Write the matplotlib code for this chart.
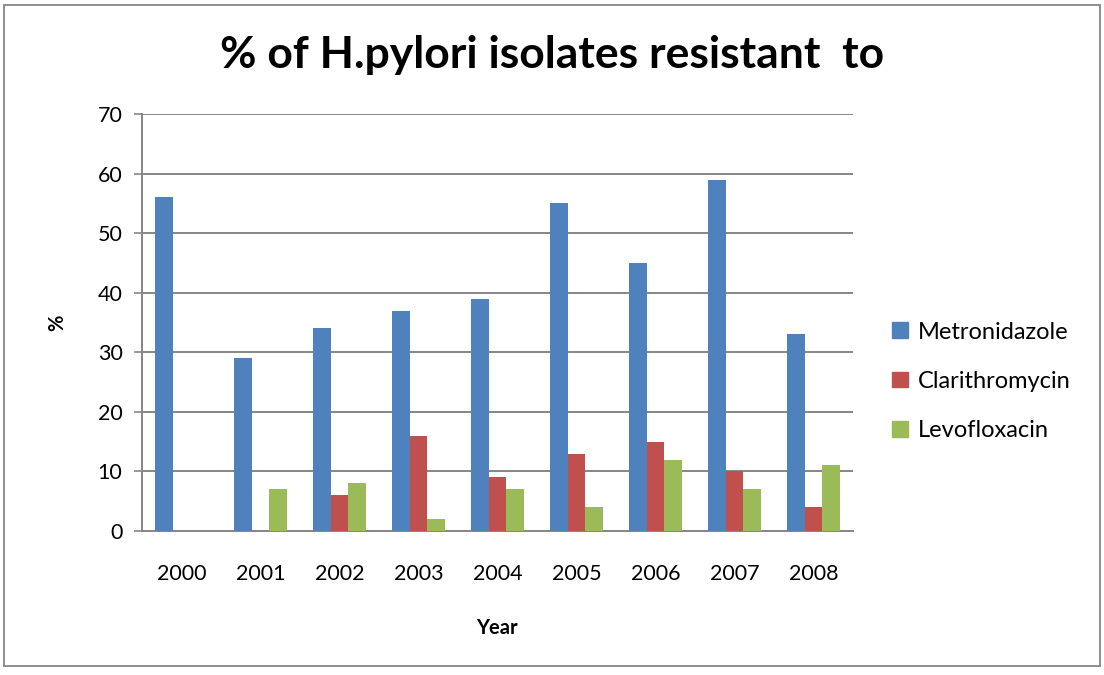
import matplotlib
matplotlib.use("Agg")
import matplotlib.pyplot as plt
import numpy as np
from matplotlib.patches import Rectangle, Patch

years = ["2000", "2001", "2002", "2003", "2004", "2005", "2006", "2007", "2008"]
metronidazole = [56, 29, 34, 37, 39, 55, 45, 59, 33]
clarithromycin = [0, 0, 6, 16, 9, 13, 15, 10, 4]
levofloxacin = [0, 7, 8, 2, 7, 4, 12, 7, 11]
series_names = ["Metronidazole", "Clarithromycin", "Levofloxacin"]
colors = ["#4F81BD", "#C0504D", "#9BBB59"]

plt.rcParams["font.family"] = ["Lato", "DejaVu Sans"]

fig = plt.figure(figsize=(11.04, 6.75), dpi=100)
ax = fig.add_axes([0.1286, 0.2133, 0.644, 0.6178])

x = np.arange(len(years))
w = 1 / 4.5
for i, (vals, name, c) in enumerate(zip([metronidazole, clarithromycin, levofloxacin],
                                          series_names, colors)):
    ax.bar(x + (i - 1) * w, vals, w, color=c, label=name, zorder=3)

ax.set_xlim(-0.5, len(years) - 0.5)
ax.set_ylim(0, 70)
ax.set_yticks(range(0, 71, 10))
ax.set_xticks(x)
ax.set_xticklabels(years)
ax.tick_params(axis="x", length=0, pad=24, labelsize=15.5)
ax.tick_params(axis="y", length=6, width=1.2, color="#868686", pad=8, labelsize=15.5)
ax.yaxis.grid(True, color="#868686", linewidth=1.4, zorder=0)
for s in ("top", "right"):
    ax.spines[s].set_visible(False)
ax.spines["left"].set_color("#868686")
ax.spines["left"].set_linewidth(1.4)
ax.spines["bottom"].set_color("#868686")
ax.spines["bottom"].set_linewidth(1.4)

ax.set_xlabel("Year", fontsize=14.5, fontweight="bold", labelpad=24)
ax.set_ylabel("%", fontsize=14.5, fontweight="bold", labelpad=22)

fig.text(0.5, 0.918, "% of H.pylori isolates resistant  to", ha="center", va="center",
         fontsize=32, fontweight="bold")

handles = [Patch(color=c, label=n) for c, n in zip(colors, series_names)]
fig.legend(handles=handles, loc="center left", bbox_to_anchor=(0.789, 0.435),
           frameon=False, fontsize=17, handlelength=0.65, handleheight=0.65,
           handletextpad=0.45, labelspacing=1.2)

fig.patches.append(Rectangle((0.004, 0.013), 0.992, 0.98, transform=fig.transFigure,
                             fill=False, edgecolor="#868686", linewidth=1.3))

fig.savefig("out.png", dpi=100)
